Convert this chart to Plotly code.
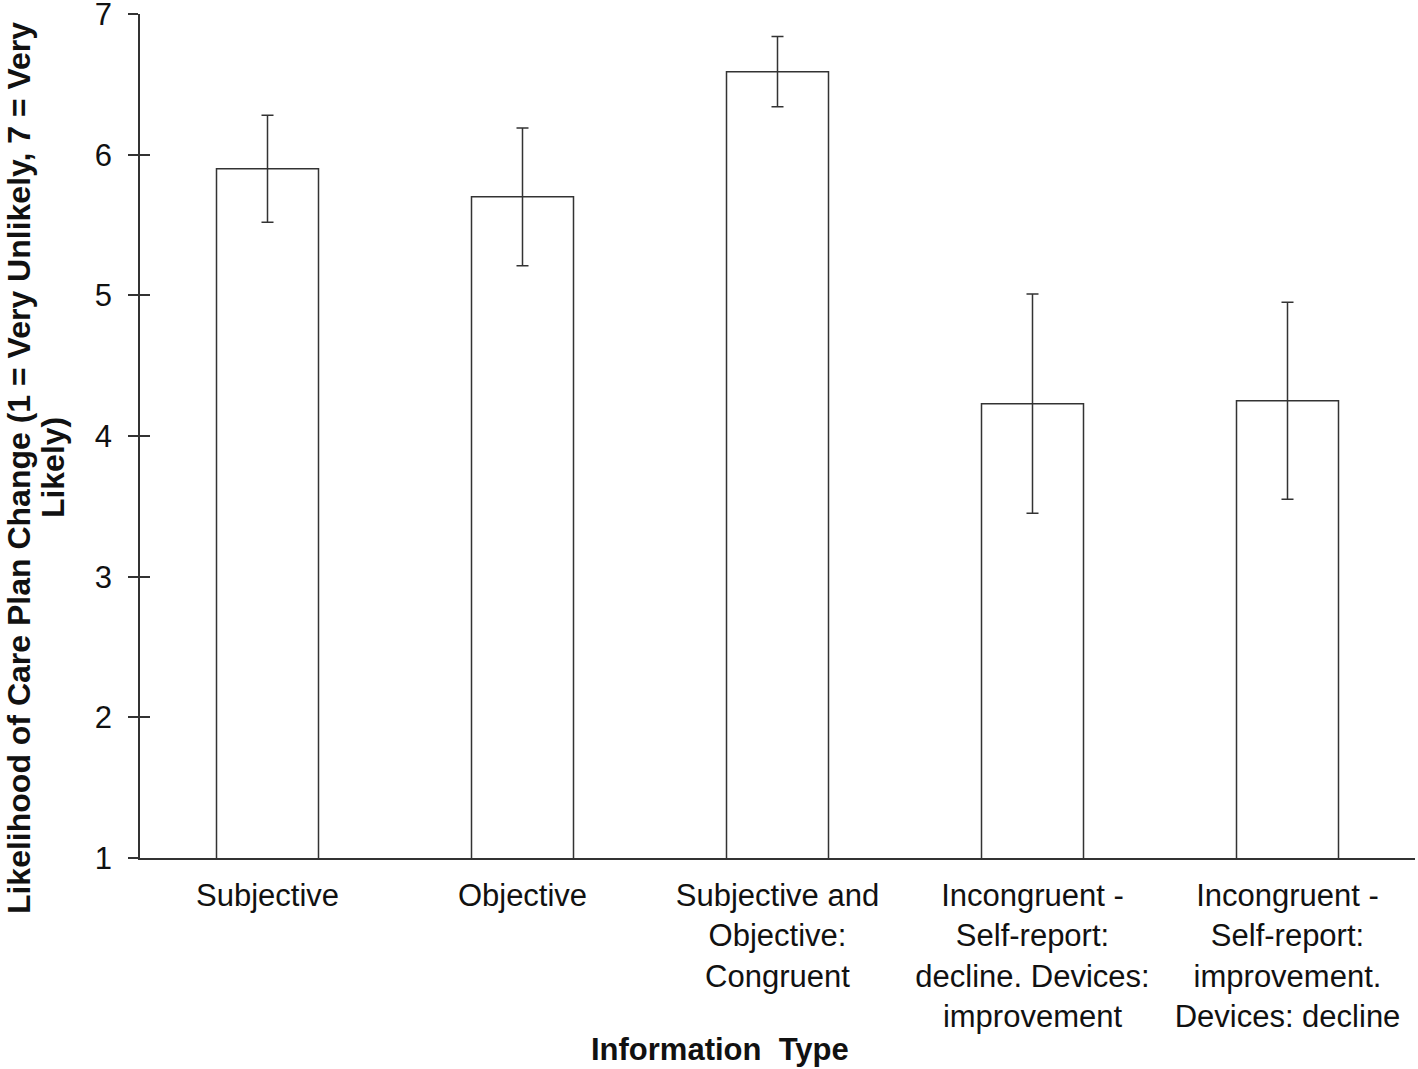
import plotly.graph_objects as go

categories = ["Subjective", "Objective", "Subjective and<br>Objective:<br>Congruent",
              "Incongruent -<br>Self-report:<br>decline. Devices:<br>improvement",
              "Incongruent -<br>Self-report:<br>improvement.<br>Devices: decline"]
means = [5.90, 5.70, 6.59, 4.23, 4.25]
errors = [0.38, 0.49, 0.25, 0.78, 0.70]
y_ticks = [1, 2, 3, 4, 5, 6, 7]
y_title_lines = ["Likelihood of Care Plan Change (1 = Very Unlikely, 7 = Very", "Likely)"]

line_col = "#333333"
font = dict(family="Liberation Sans, Arial, sans-serif", size=31, color="#111111")
xtitle_font = dict(family="Liberation Sans, Arial, sans-serif", size=31, color="#111111")
ytitle_font = dict(family="Liberation Sans, Arial, sans-serif", size=32, color="#111111")

fig = go.Figure()
fig.add_trace(go.Bar(x=categories, y=means,
                     marker=dict(color="white", line=dict(color=line_col, width=1.5)),
                     error_y=dict(type="data", array=errors, color=line_col, thickness=1.5, width=6),
                     showlegend=False))
# invisible trace so the inner-tick axis gets drawn
fig.add_trace(go.Scatter(x=categories[:1], y=[1], yaxis="y2", mode="markers",
                         marker=dict(opacity=0), showlegend=False, hoverinfo="skip"))

fig.update_layout(
    width=1418, height=1069,
    margin=dict(l=140, r=3, t=14, b=211),
    plot_bgcolor="white", paper_bgcolor="white",
    font=font, bargap=0.6,
    xaxis=dict(showline=True, linecolor=line_col, linewidth=1.5, ticks="", automargin=False,
               showgrid=False, tickfont=font, ticklabelstandoff=9),
    yaxis=dict(range=[1, 7], tickvals=y_ticks, showline=True, linecolor=line_col, linewidth=1.5,
               ticks="outside", ticklen=10, tickcolor=line_col, tickwidth=1.5, automargin=False,
               ticklabeloverflow="allow",
               showgrid=False, zeroline=False, tickfont=font, ticklabelstandoff=10),
    yaxis2=dict(range=[1, 7], tickvals=y_ticks, overlaying="y", side="left", automargin=False,
                ticks="inside", ticklen=10, tickcolor=line_col, tickwidth=1.5,
                showticklabels=False, showline=False, showgrid=False, zeroline=False),
)

fig.add_annotation(text="<b>Information  Type</b>", xref="paper", yref="paper",
                   x=0.455, y=-0.227, showarrow=False, font=xtitle_font,
                   xanchor="center", yanchor="middle")
# y title, one annotation per line to get the tighter line spacing
for txt, xpos in zip(y_title_lines, [-0.0949, -0.0682]):
    fig.add_annotation(text="<b>" + txt + "</b>", xref="paper", yref="paper",
                       x=xpos, y=0.462, textangle=-90, showarrow=False,
                       font=ytitle_font, xanchor="center", yanchor="middle")

# drop the page's default 8px body margin so the figure sits at the window corner
fig.write_html("out.html", config={"displayModeBar": False},
               post_script="document.body.style.margin = '0';")
